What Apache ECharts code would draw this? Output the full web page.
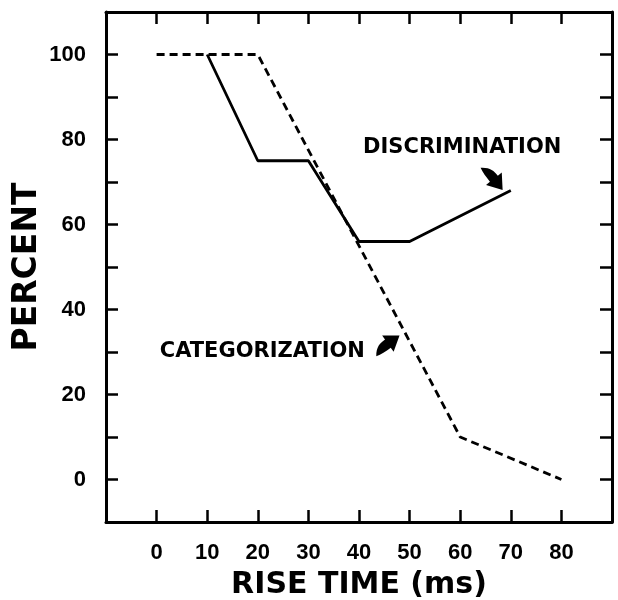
<!DOCTYPE html>
<html>
<head>
<meta charset="utf-8">
<script src="https://cdn.jsdelivr.net/npm/echarts@6/dist/echarts.min.js"></script>
<style>html,body{margin:0;padding:0;background:#fff}#c{width:618px;height:600px}</style>
</head>
<body>
<div id="c"></div>
<script>
// Data
var riseTime = [0, 10, 20, 30, 40, 50, 60, 70, 80];
var discrimination = [[10, 100], [20, 75], [30, 75], [40, 56], [50, 56], [70, 68]];
var categorization = [[0, 100], [20, 100], [60, 10], [80, 0]];
var xTickLabels = ['0', '10', '20', '30', '40', '50', '60', '70', '80'];
var yTickLabels = ['0', '20', '40', '60', '80', '100'];
var labelTexts = ['DISCRIMINATION', 'CATEGORIZATION'];
var labelPos = [[60.4, 78.2], [20.9, 30.0]];
var arrowPos = [[66.5, 71.0], [45.5, 31.8]];
var arrowAngle = [-52, 35];

var FONT = 'DejaVu Sans';
var TICKFONT = 'Liberation Sans';
var arrowPath = 'path://M0,11 C4,5 8,4 13,4 L13,0 L24,8 L13,16 L13,12 C8,12 4,12 0,11 Z';

function axisBase(pos, showLabels, isX) {
  return {
    type: 'value',
    position: pos,
    min: -10,
    max: isX ? 90 : 110,
    interval: 10,
    splitLine: { show: false },
    axisLine: { show: true, onZero: false, lineStyle: { color: '#000', width: 3 } },
    axisTick: { show: true, inside: true, length: 12, lineStyle: { color: '#000', width: 2.5 } },
    axisLabel: {
      show: showLabels,
      color: '#000',
      fontFamily: TICKFONT,
      fontWeight: 'bold',
      fontSize: 22,
      margin: 20,
      formatter: function (v) {
        var s = String(v);
        var list = isX ? xTickLabels : yTickLabels;
        return list.indexOf(s) >= 0 ? s : '';
      }
    }
  };
}

var xb = axisBase('bottom', true, true);
xb.name = 'RISE TIME (ms)';
xb.nameLocation = 'middle';
xb.nameGap = 48;
xb.nameMoveOverlap = false;
xb.nameTextStyle = { color: '#000', fontFamily: FONT, fontWeight: 'bold', fontSize: 30 };
var xt = axisBase('top', false, true);
var yl = axisBase('left', true, false);
yl.name = 'PERCENT';
yl.nameLocation = 'middle';
yl.nameGap = 62;
yl.nameMoveOverlap = false;
yl.nameTextStyle = { color: '#000', fontFamily: FONT, fontWeight: 'bold', fontSize: 33 };
var yr = axisBase('right', false, false);

var chart = echarts.init(document.getElementById('c'), null, { renderer: 'canvas' });
chart.setOption({
  backgroundColor: '#fff',
  animation: false,
  grid: { left: 106, right: 6, top: 12, bottom: 78, containLabel: false, outerBoundsMode: 'none' },
  xAxis: [xb, xt],
  yAxis: [yl, yr],
  series: [
    {
      name: 'Discrimination', type: 'line', data: discrimination,
      xAxisIndex: 0, yAxisIndex: 0,
      symbol: 'none', lineStyle: { color: '#000', width: 2.8, type: 'solid' }
    },
    {
      name: 'Categorization', type: 'line', data: categorization,
      xAxisIndex: 0, yAxisIndex: 0,
      symbol: 'none', lineStyle: { color: '#000', width: 2.8, type: [8, 5] }
    },
    {
      type: 'scatter', xAxisIndex: 0, yAxisIndex: 0,
      symbolSize: 0, silent: true,
      itemStyle: { color: '#000', opacity: 1 },
      data: labelPos.map(function (p, i) { return { value: p, name: labelTexts[i] }; }),
      label: {
        show: true, position: 'inside', color: '#000', opacity: 1,
        verticalAlign: 'middle', align: 'center',
        fontFamily: FONT, fontWeight: 'bold', fontSize: 21,
        formatter: function (p) { return p.name; }
      }
    },
    {
      type: 'scatter', xAxisIndex: 0, yAxisIndex: 0, silent: true,
      symbol: arrowPath, symbolSize: [31, 20],
      itemStyle: { color: '#000', opacity: 1 },
      data: arrowPos.map(function (p, i) { return { value: p, symbolRotate: arrowAngle[i] }; })
    }
  ]
});
</script>
</body>
</html>
